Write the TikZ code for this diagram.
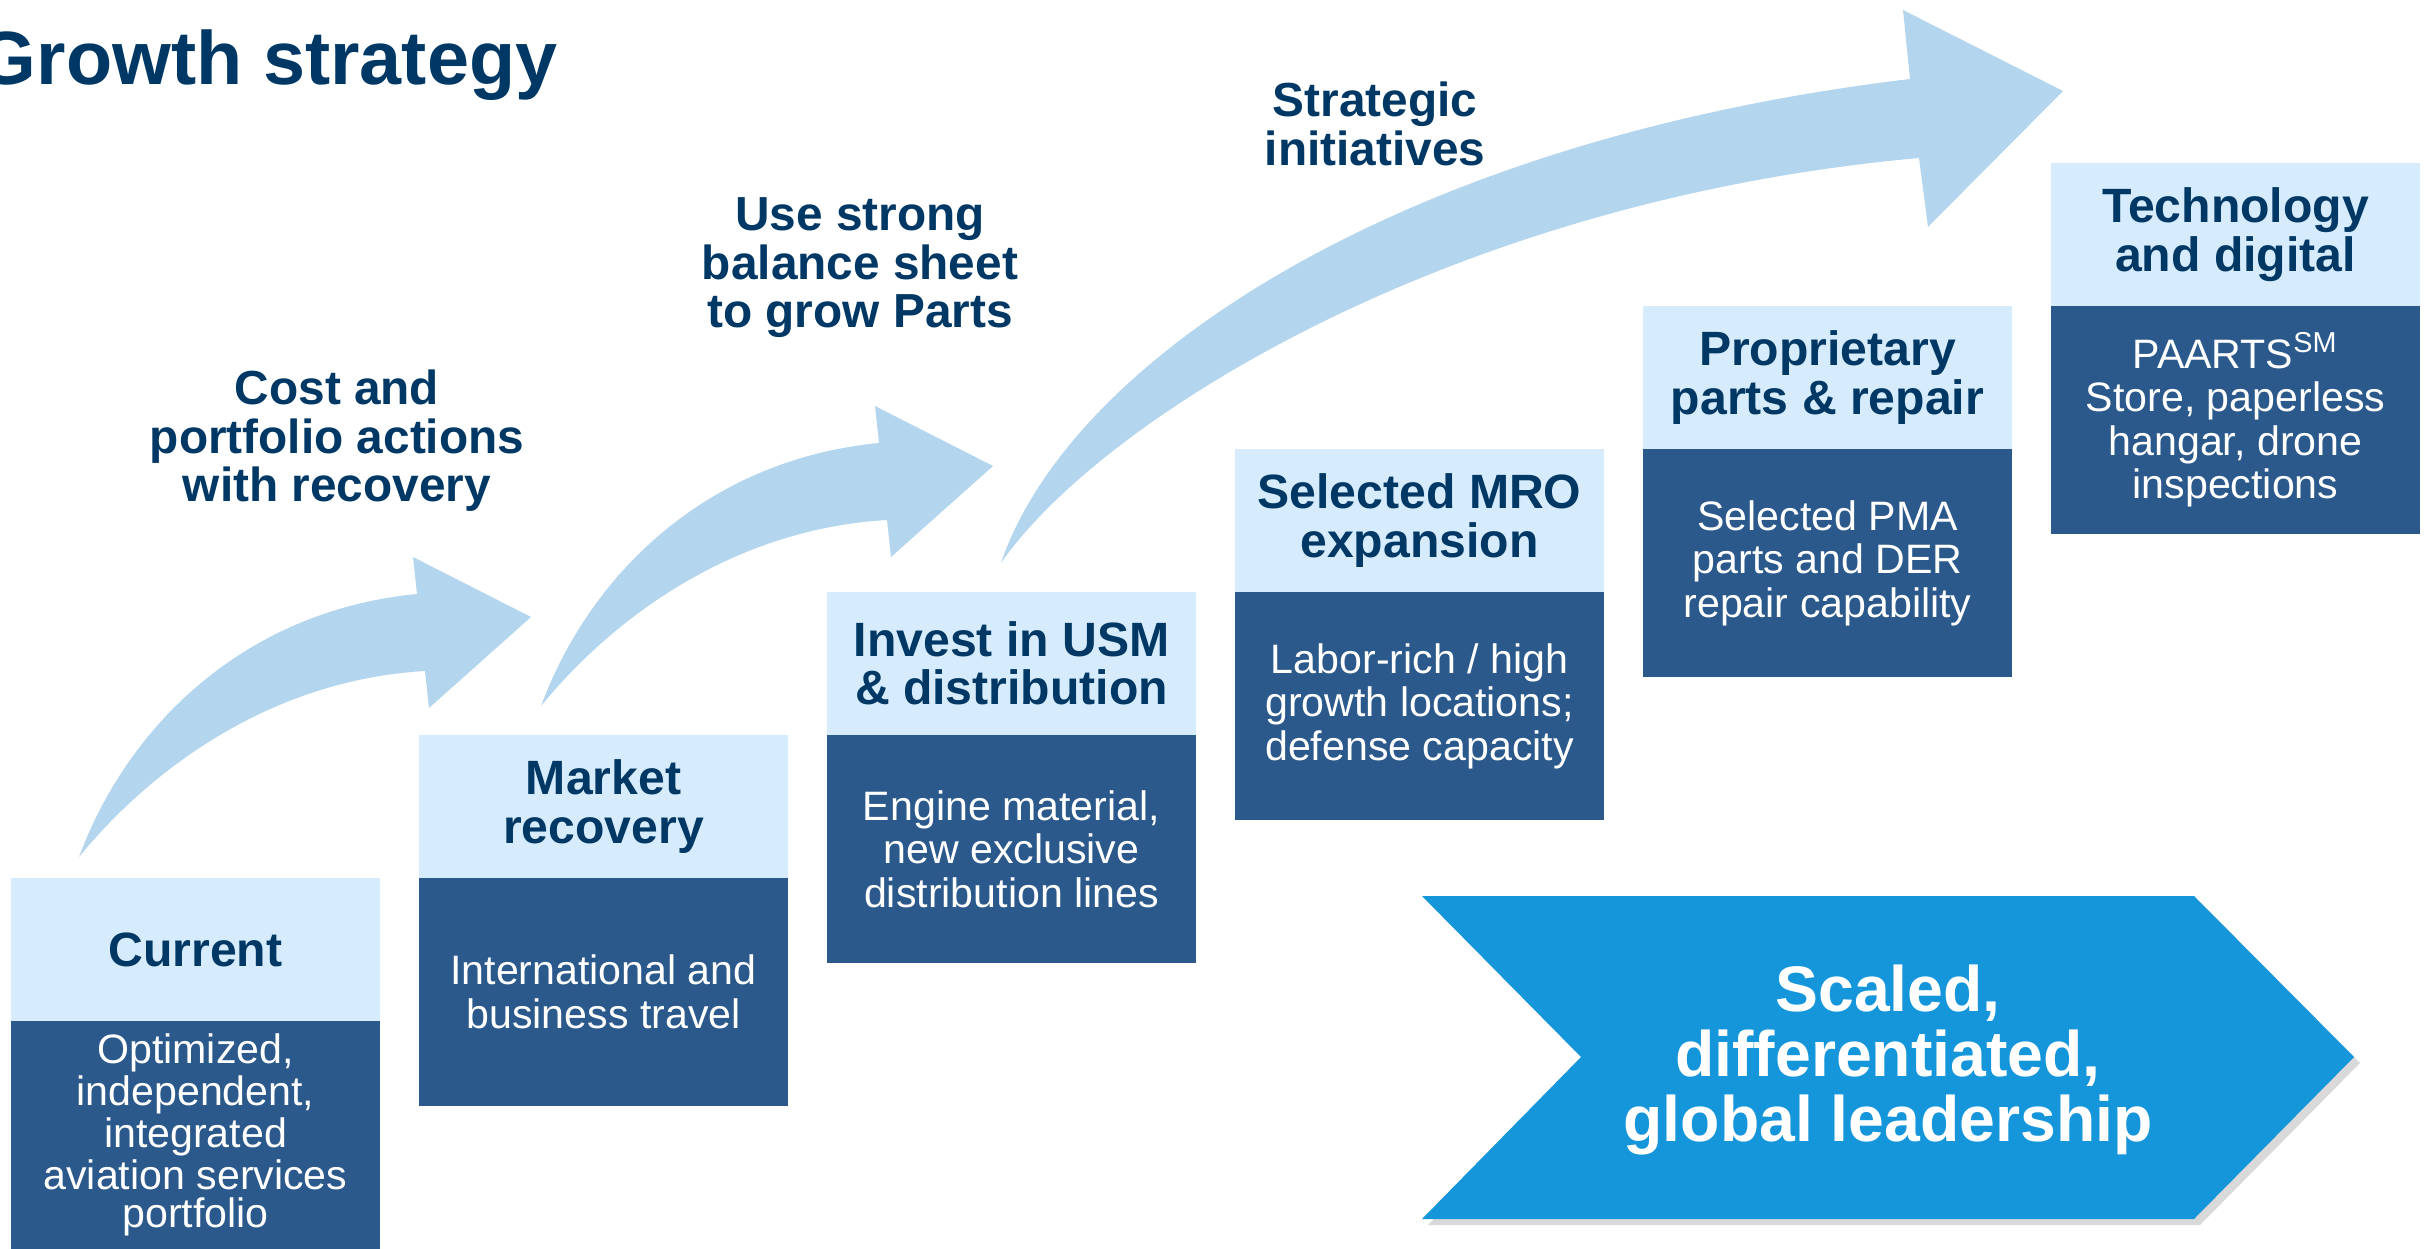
\documentclass[tikz,border=0pt]{standalone}
\usepackage{fontspec}
\setmainfont{Liberation Sans}
\usetikzlibrary{positioning,shadows}

\definecolor{navy}{RGB}{0,56,101}
\definecolor{boxlight}{RGB}{214,235,251}
\definecolor{boxdark}{RGB}{43,89,139}
\definecolor{arrowblue}{RGB}{179,213,238}
\definecolor{goalblue}{RGB}{21,150,219}

\tikzset{
  headbox/.style={anchor=north west, fill=boxlight, text=navy, align=center,
    font=\bfseries\fontsize{13.7}{13.8}\selectfont,
    minimum width=36.9mm, minimum height=14.3mm, inner sep=0pt, outer sep=0pt},
  bodybox/.style={fill=boxdark, text=white, align=center,
    minimum width=36.9mm, minimum height=22.8mm, inner sep=0pt, outer sep=0pt},
  steplabel/.style={text=navy, align=center, font=\bfseries\fontsize{13.6}{13.8}\selectfont},
  growarrow/.style={fill=arrowblue}
}

\begin{document}
\begin{tikzpicture}[x=0.1mm,y=-0.1mm]
\useasboundingbox (0,0) rectangle (2433,1249);

\node[anchor=base east, inner sep=0pt, text=navy, font=\bfseries\fontsize{21.5}{24}\selectfont] (title) at (558,85) {Growth strategy};

% two small arrows
\foreach \dx/\dy in {0/0,462/-151}
  \fill[growarrow, shift={(\dx,\dy)}] (79,857) .. controls (130,720) and (250,610) .. (417,594)
    -- (413,557) -- (531,617) -- (429,708) -- (425,671)
    .. controls (270,680) and (150,770) .. cycle;

% big arrow
\fill[growarrow] (1001,563) .. controls (1070,360) and (1400,140) .. (1910,79)
  -- (1903,10) -- (2063,91) -- (1928,227) -- (1919,158)
  .. controls (1450,200) and (1100,420) .. cycle;

\node[steplabel] (cost) at (337,441) {Cost and\\portfolio actions\\with recovery};
\node[steplabel] (parts) at (860,268) {Use strong\\balance sheet\\to grow Parts};
\node[steplabel] (init) at (1375,124) {Strategic\\initiatives};

% the six steps
\foreach \i/\lead/\head/\body in {
  1/10.8/{Current}/{Optimized,\\independent,\\integrated\\aviation services\\portfolio},
  2/12.4/{Market\\recovery}/{International and\\business travel},
  3/12.4/{Invest in USM\\\& distribution}/{Engine material,\\new exclusive\\distribution lines},
  4/12.4/{Selected MRO\\expansion}/{Labor-rich / high\\growth locations;\\defense capacity},
  5/12.4/{Proprietary\\parts \& repair}/{Selected PMA\\parts and DER\\repair capability},
  6/12.4/{Technology\\and digital}/{PAARTS\textsuperscript{SM}\\Store, paperless\\hangar, drone\\inspections}}
{
  \node[headbox] (h\i) at ({11+(\i-1)*408},{878-(\i-1)*143}) {\head};
  \node[bodybox, below=0pt of h\i, font=\fontsize{11.7}{\lead}\selectfont] (b\i) {\body};
}

% goal
\fill[goalblue, drop shadow={shadow xshift=0.6mm, shadow yshift=-0.6mm, opacity=0.3}]
  (1422,896) -- (2194,896) -- (2354,1057) -- (2194,1219) -- (1422,1219) -- (1581,1057) -- cycle;
\node[text=white, align=center, font=\bfseries\fontsize{18.3}{18.5}\selectfont] (goal) at (1888,1060)
  {Scaled,\\differentiated,\\global leadership};

\end{tikzpicture}
\end{document}
